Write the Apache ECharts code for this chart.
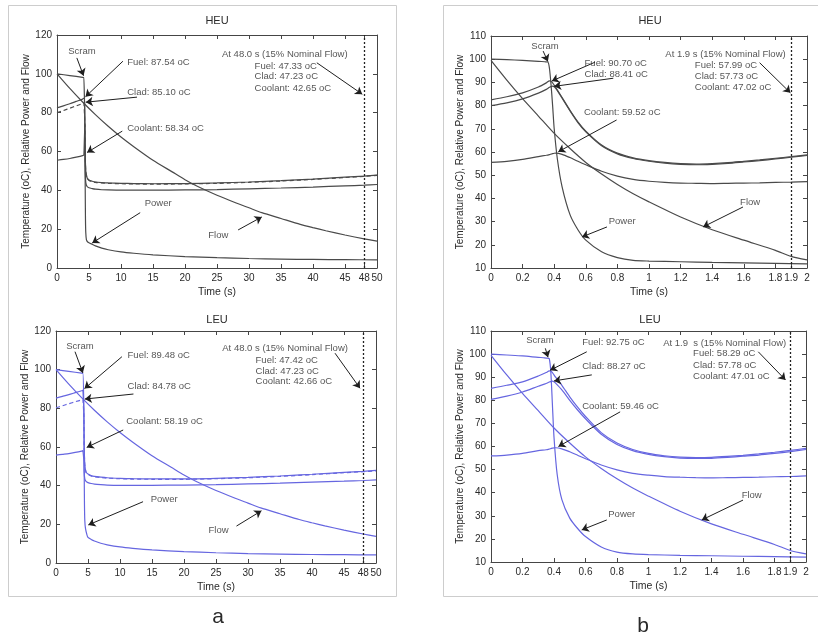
<!DOCTYPE html>
<html>
<head>
<meta charset="utf-8">
<script src="https://cdn.jsdelivr.net/npm/echarts@6/dist/echarts.min.js"></script>
<style>
  html, body { margin: 0; padding: 0; background: #fff; }
  #chart { width: 818px; height: 639px; }
</style>
</head>
<body>
<div id="chart"></div>
<script>
// ---------- (a) 0–50 s transient ----------
const tTempA = [0, 1, 2, 3, 4, 4.2, 4.3, 4.35, 4.4, 4.5, 4.7, 5, 5.5, 6, 7, 8, 10, 12, 15, 20, 25, 30, 35, 40, 45, 48, 50];
const fuelHeuA    = [82.5, 83.5, 84.6, 85.8, 87.0, 87.37, 87.54, 75, 60, 50, 46.5, 45.3, 44.7, 44.3, 44.0, 43.8, 43.6, 43.5, 43.4, 43.5, 43.8, 44.3, 45.0, 45.8, 46.8, 47.33, 47.8];
const cladHeuA    = [80.0, 81.1, 82.3, 83.5, 84.7, 84.95, 85.10, 74, 59.5, 49.8, 46.3, 45.1, 44.5, 44.1, 43.8, 43.6, 43.4, 43.3, 43.2, 43.3, 43.6, 44.1, 44.8, 45.6, 46.6, 47.23, 47.7];
const coolantHeuA = [55.5, 55.9, 56.4, 57.1, 57.9, 58.2, 58.34, 74, 52, 44, 42, 41.3, 40.9, 40.6, 40.3, 40.2, 40.1, 40.1, 40.1, 40.2, 40.4, 40.8, 41.2, 41.7, 42.3, 42.65, 43.0];
const fuelLeuA    = [85.3, 86.2, 87.1, 88.1, 89.1, 89.35, 89.48, 78, 62, 51, 47, 46, 45.2, 44.8, 44.4, 44.1, 43.8, 43.6, 43.5, 43.5, 43.8, 44.3, 45.0, 45.9, 46.9, 47.42, 47.9];
const cladLeuA    = [80.3, 81.3, 82.4, 83.4, 84.4, 84.65, 84.78, 76, 61, 50.5, 46.8, 45.8, 45.0, 44.6, 44.2, 43.9, 43.6, 43.4, 43.3, 43.3, 43.6, 44.1, 44.8, 45.7, 46.7, 47.23, 47.7];
const coolantLeuA = [55.8, 56.2, 56.6, 57.2, 57.9, 58.1, 58.19, 53, 47, 43.5, 42.2, 41.6, 41.1, 40.8, 40.5, 40.3, 40.2, 40.2, 40.2, 40.3, 40.5, 40.9, 41.3, 41.8, 42.3, 42.66, 43.0];

const tPowerA    = [0, 2, 4, 4.2, 4.3, 4.35, 4.4, 4.45, 4.5, 4.6, 4.8, 5, 5.5, 6, 7, 8, 10, 12, 15, 20, 25, 30, 35, 40, 45, 50];
const powerHeuA  = [100, 99.1, 98.2, 98.1, 98, 75, 45, 25, 18, 14.5, 13.4, 13, 12.2, 11.4, 10.2, 9.4, 8.3, 7.6, 6.8, 5.9, 5.3, 4.9, 4.6, 4.4, 4.3, 4.2];
const powerLeuA  = [100, 99.1, 98.2, 98.1, 98, 80, 50, 30, 22, 18, 15, 13.2, 12.2, 11.4, 10.2, 9.4, 8.3, 7.6, 6.8, 5.9, 5.3, 4.9, 4.6, 4.4, 4.3, 4.2];

const tFlowA = [0, 2, 4, 6, 8, 10, 12, 15, 18, 20, 22, 25, 28, 30, 32, 35, 38, 40, 42, 45, 48, 50];
const flowA  = [100, 92.5, 85.5, 79, 73, 67.5, 62.5, 55.5, 49.5, 45.5, 42, 37.5, 33.5, 31, 28.5, 25.5, 22.5, 20.8, 19.2, 17, 15, 13.8];

const xTicksA = [0, 5, 10, 15, 20, 25, 30, 35, 40, 45, 48, 50];
const scramA = 4.3;
const endA = 48;

// ---------- (b) 0–2 s transient ----------
const tTempB = [0, 0.1, 0.2, 0.3, 0.35, 0.37, 0.38, 0.39, 0.4, 0.41, 0.45, 0.5, 0.55, 0.6, 0.7, 0.8, 0.9, 1.0, 1.1, 1.2, 1.3, 1.4, 1.5, 1.6, 1.7, 1.8, 1.9, 2.0];
const fuelHeuB    = [82.5, 83.8, 85.5, 88.0, 89.8, 90.70, 90.5, 89.8, 88.8, 87.8, 83.5, 78.0, 73.0, 69.0, 63.0, 59.5, 57.5, 56.3, 55.5, 55.0, 54.8, 55.0, 55.4, 56.0, 56.6, 57.3, 57.99, 58.8];
const cladHeuB    = [80.0, 81.2, 82.9, 85.4, 87.0, 87.9, 88.2, 88.41, 88.1, 87.4, 83.2, 77.7, 72.7, 68.7, 62.7, 59.2, 57.2, 56.0, 55.2, 54.7, 54.5, 54.7, 55.1, 55.7, 56.3, 57.0, 57.73, 58.5];
const coolantHeuB = [55.5, 56.0, 56.8, 58.0, 58.6, 58.9, 59.1, 59.3, 59.45, 59.52, 59.0, 57.6, 56.0, 54.5, 51.7, 49.6, 48.2, 47.4, 46.9, 46.6, 46.5, 46.4, 46.5, 46.6, 46.7, 46.9, 47.02, 47.2];
const fuelLeuB    = [85.2, 86.5, 88.0, 90.5, 92.0, 92.75, 92.6, 92.0, 91.0, 90.0, 86.5, 81.5, 77.0, 73.0, 66.0, 61.5, 58.7, 57.0, 56.0, 55.4, 55.2, 55.3, 55.7, 56.2, 56.8, 57.5, 58.29, 59.2];
const cladLeuB    = [80.4, 81.8, 83.6, 86.1, 87.3, 87.9, 88.1, 88.27, 88.0, 87.4, 84.5, 80.0, 75.8, 72.0, 65.3, 60.9, 58.2, 56.6, 55.6, 55.0, 54.8, 54.9, 55.3, 55.8, 56.3, 57.0, 57.78, 58.7];
const coolantLeuB = [55.9, 56.3, 57.0, 58.2, 58.6, 58.9, 59.1, 59.3, 59.4, 59.46, 59.0, 57.7, 56.2, 54.7, 52.0, 49.9, 48.4, 47.6, 47.0, 46.7, 46.5, 46.4, 46.5, 46.6, 46.7, 46.9, 47.01, 47.3];

const tPowerB   = [0, 0.1, 0.2, 0.3, 0.34, 0.36, 0.37, 0.38, 0.39, 0.4, 0.42, 0.45, 0.5, 0.55, 0.6, 0.7, 0.8, 0.9, 1.0, 1.2, 1.4, 1.6, 1.8, 2.0];
const powerHeuB = [100, 99.8, 99.5, 99.1, 98.9, 98.8, 96, 89, 80, 70, 57, 45, 33, 26.5, 22, 17, 14.5, 13.3, 13, 12.7, 12.4, 12.2, 12, 11.8];
const powerLeuB = [100, 99.6, 99.2, 98.6, 98.4, 98.2, 98.0, 92, 78, 64, 48, 37, 29, 24.5, 21, 16.5, 14.3, 13.5, 13.2, 12.9, 12.7, 12.5, 12.3, 12.1];

const tFlowB = [0, 0.1, 0.2, 0.3, 0.4, 0.5, 0.6, 0.7, 0.8, 0.9, 1.0, 1.2, 1.4, 1.6, 1.8, 1.9, 2.0];
const flowB  = [99.5, 91, 83, 75.5, 68, 61.5, 55.5, 50.5, 46, 42, 38.5, 32, 26.5, 22, 17.6, 15, 13.5];

const xTicksB = [0, 0.2, 0.4, 0.6, 0.8, 1, 1.2, 1.4, 1.6, 1.8, 1.9, 2];
const endB = 1.9;

// ---------- helpers ----------
const FONT = '"Liberation Sans", Arial, Helvetica, sans-serif';
const INK = '#2a2a2a';
const AXIS = '#454545';
const GRAY_LINE = '#4a4a4a';
const BLUE_LINE = '#6666e0';
const yName = 'Temperature (oC), Relative Power and Flow';

const valueAt = (t, v, x) => v[t.indexOf(x)];
const f2 = n => n.toFixed(2);

function curve(gi, t, v, color, dashed) {
  return {
    type: 'line', xAxisIndex: gi * 2, yAxisIndex: gi * 2,
    data: t.map((x, i) => [x, v[i]]),
    symbol: 'none', showSymbol: false, silent: true,
    smooth: 0.25,
    lineStyle: { color: color, width: 1.2, type: dashed ? [4, 3] : 'solid' },
    z: 3
  };
}

// dotted marker at the 15 % flow time, carried by the flow curve
function withMarker(s, markT) {
  s.markLine = {
    silent: true, animation: false, symbol: ['none', 'none'],
    label: { show: false },
    lineStyle: { color: '#222', width: 1.3, type: [2, 2] },
    data: [{ xAxis: markT }]
  };
  return s;
}

// text notes: [t, value, text, anchor]  anchor 'l' = left edge, 'c' = centred
// arrows: [tFrom, vFrom, tTo, vTo]
function notes(gi, items, arrows) {
  return {
    type: 'scatter', xAxisIndex: gi * 2, yAxisIndex: gi * 2,
    symbolSize: 1, itemStyle: { color: 'rgba(0,0,0,0)' }, silent: true, z: 6,
    data: items.map(n => ({
      value: [n[0], n[1]],
      label: {
        show: true, formatter: n[2], position: n[3] === 'c' ? 'inside' : 'right',
        distance: 0, color: INK, fontSize: 9.5, fontFamily: FONT
      }
    })),
    markLine: {
      silent: true, animation: false,
      symbol: ['none', 'arrow'], symbolSize: 7,
      label: { show: false },
      lineStyle: { color: '#1e1e1e', width: 1, type: 'solid' },
      data: arrows.map(a => [{ coord: [a[0], a[1]] }, { coord: [a[2], a[3]] }])
    }
  };
}

function xAxes(gi, min, max, ticks) {
  const base = {
    type: 'value', gridIndex: gi, min: min, max: max,
    splitLine: { show: false },
    axisLine: { show: true, onZero: false, lineStyle: { color: AXIS, width: 1 } },
    axisTick: { show: true, inside: true, length: 4, customValues: ticks, lineStyle: { color: AXIS } }
  };
  return [
    Object.assign({}, base, {
      position: 'bottom',
      axisLabel: { show: true, customValues: ticks, fontSize: 10, color: INK, margin: 5, fontFamily: FONT },
      name: 'Time (s)', nameLocation: 'middle', nameGap: 19,
      nameTextStyle: { fontSize: 10.5, color: INK, fontFamily: FONT }
    }),
    Object.assign({}, base, { position: 'top', axisLabel: { show: false } })
  ];
}

function yAxes(gi, min, max, interval) {
  const base = {
    type: 'value', gridIndex: gi, min: min, max: max, interval: interval,
    splitLine: { show: false },
    axisLine: { show: true, onZero: false, lineStyle: { color: AXIS, width: 1 } },
    axisTick: { show: true, inside: true, length: 4, lineStyle: { color: AXIS } }
  };
  return [
    Object.assign({}, base, {
      position: 'left',
      axisLabel: { show: true, fontSize: 10, color: INK, margin: 5, fontFamily: FONT },
      name: yName, nameLocation: 'middle', nameGap: 24,
      nameTextStyle: { fontSize: 10, color: INK, fontFamily: FONT }
    }),
    Object.assign({}, base, { position: 'right', axisLabel: { show: false } })
  ];
}

function header(t, flow, gap) {
  return 'At ' + t.toFixed(1) + gap + 's (' + Math.round(flow) + '% Nominal Flow)';
}

// ---------- annotation texts ----------
const flowEndA = valueAt(tFlowA, flowA, endA);
const flowEndB = valueAt(tFlowB, flowB, endB);

const notesHeuA = [
  [3.9, 111.5, 'Scram', 'c'],
  [10.9, 106.0, 'Fuel: ' + f2(valueAt(tTempA, fuelHeuA, scramA)) + ' oC', 'l'],
  [10.9, 90.6, 'Clad: ' + f2(valueAt(tTempA, cladHeuA, scramA)) + ' oC', 'l'],
  [10.9, 72.0, 'Coolant: ' + f2(valueAt(tTempA, coolantHeuA, scramA)) + ' oC', 'l'],
  [15.8, 33.5, 'Power', 'c'],
  [25.2, 17.0, 'Flow', 'c'],
  [25.7, 110.2, header(endA, flowEndA, ' '), 'l'],
  [30.8, 104.0, 'Fuel: ' + f2(valueAt(tTempA, fuelHeuA, endA)) + ' oC', 'l'],
  [30.8, 98.9, 'Clad: ' + f2(valueAt(tTempA, cladHeuA, endA)) + ' oC', 'l'],
  [30.8, 92.5, 'Coolant: ' + f2(valueAt(tTempA, coolantHeuA, endA)) + ' oC', 'l']
];
const arrowsHeuA = [
  [3.1, 108.2, 4.15, 99.0],
  [10.3, 106.5, 4.45, 88.2],
  [12.5, 88.0, 4.5, 85.4],
  [10.2, 70.5, 4.7, 59.5],
  [13.0, 28.5, 5.5, 12.9],
  [28.3, 19.6, 32.0, 26.3],
  [40.6, 105.7, 47.7, 89.5]
];

const notesLeuA = [
  [3.75, 112.3, 'Scram', 'c'],
  [11.1, 107.6, 'Fuel: ' + f2(valueAt(tTempA, fuelLeuA, scramA)) + ' oC', 'l'],
  [11.1, 91.2, 'Clad: ' + f2(valueAt(tTempA, cladLeuA, scramA)) + ' oC', 'l'],
  [10.9, 73.1, 'Coolant: ' + f2(valueAt(tTempA, coolantLeuA, scramA)) + ' oC', 'l'],
  [16.9, 33.0, 'Power', 'c'],
  [25.4, 17.0, 'Flow', 'c'],
  [25.9, 111.1, header(endA, flowEndA, ' '), 'l'],
  [31.1, 105.0, 'Fuel: ' + f2(valueAt(tTempA, fuelLeuA, endA)) + ' oC', 'l'],
  [31.1, 99.3, 'Clad: ' + f2(valueAt(tTempA, cladLeuA, endA)) + ' oC', 'l'],
  [31.1, 93.8, 'Coolant: ' + f2(valueAt(tTempA, coolantLeuA, endA)) + ' oC', 'l']
];
const arrowsLeuA = [
  [2.97, 109.3, 4.2, 98.3],
  [10.3, 106.7, 4.45, 90.2],
  [12.1, 87.4, 4.5, 84.8],
  [10.5, 68.8, 4.8, 59.8],
  [13.6, 31.7, 5.05, 19.7],
  [28.2, 19.1, 32.1, 27.0],
  [43.6, 108.5, 47.5, 90.4]
];

const notesHeuB = [
  [0.342, 105.4, 'Scram', 'c'],
  [0.589, 98.2, 'Fuel: ' + f2(Math.max(...fuelHeuB)) + ' oC', 'l'],
  [0.589, 93.6, 'Clad: ' + f2(Math.max(...cladHeuB)) + ' oC', 'l'],
  [0.585, 76.9, 'Coolant: ' + f2(Math.max(...coolantHeuB)) + ' oC', 'l'],
  [0.83, 30.3, 'Power', 'c'],
  [1.64, 38.4, 'Flow', 'c'],
  [1.10, 102.2, header(endB, flowEndB, ' '), 'l'],
  [1.287, 97.5, 'Fuel: ' + f2(valueAt(tTempB, fuelHeuB, endB)) + ' oC', 'l'],
  [1.287, 92.5, 'Clad: ' + f2(valueAt(tTempB, cladHeuB, endB)) + ' oC', 'l'],
  [1.287, 87.7, 'Coolant: ' + f2(valueAt(tTempB, coolantHeuB, endB)) + ' oC', 'l']
];
const arrowsHeuB = [
  [0.33, 103.5, 0.36, 99.0],
  [0.658, 98.7, 0.385, 90.6],
  [0.774, 91.8, 0.40, 88.3],
  [0.795, 73.8, 0.426, 60.1],
  [0.734, 27.7, 0.576, 23.4],
  [1.595, 36.3, 1.342, 27.7],
  [1.70, 98.5, 1.895, 85.5]
];

const notesLeuB = [
  [0.311, 105.8, 'Scram', 'c'],
  [0.576, 104.9, 'Fuel: ' + f2(Math.max(...fuelLeuB)) + ' oC', 'l'],
  [0.576, 94.5, 'Clad: ' + f2(Math.max(...cladLeuB)) + ' oC', 'l'],
  [0.576, 77.5, 'Coolant: ' + f2(Math.max(...coolantLeuB)) + ' oC', 'l'],
  [0.83, 30.8, 'Power', 'c'],
  [1.655, 38.7, 'Flow', 'c'],
  [1.09, 104.7, header(endB, flowEndB, '  '), 'l'],
  [1.28, 100.3, 'Fuel: ' + f2(valueAt(tTempB, fuelLeuB, endB)) + ' oC', 'l'],
  [1.28, 95.0, 'Clad: ' + f2(valueAt(tTempB, cladLeuB, endB)) + ' oC', 'l'],
  [1.28, 90.2, 'Coolant: ' + f2(valueAt(tTempB, coolantLeuB, endB)) + ' oC', 'l']
];
const arrowsLeuB = [
  [0.345, 102.5, 0.362, 98.6],
  [0.608, 101.0, 0.375, 93.0],
  [0.64, 91.0, 0.40, 88.4],
  [0.82, 75.0, 0.428, 60.0],
  [0.735, 28.2, 0.576, 23.9],
  [1.60, 36.8, 1.338, 28.2],
  [1.697, 101.0, 1.87, 88.8]
];

// ---------- chart ----------
const grids = [
  { left: 57, top: 35, width: 320, height: 233 },   // HEU, 0–50 s
  { left: 491, top: 36, width: 316, height: 232 },  // HEU, 0–2 s
  { left: 56, top: 331, width: 320, height: 232 },  // LEU, 0–50 s
  { left: 491, top: 331, width: 315, height: 231 }  // LEU, 0–2 s
];

const xAxis = [].concat(
  xAxes(0, 0, 50, xTicksA), xAxes(1, 0, 2, xTicksB),
  xAxes(2, 0, 50, xTicksA), xAxes(3, 0, 2, xTicksB)
);
const yAxis = [].concat(
  yAxes(0, 0, 120, 20), yAxes(1, 10, 110, 10),
  yAxes(2, 0, 120, 20), yAxes(3, 10, 110, 10)
);

const series = [
  // HEU 0–50 s
  withMarker(curve(0, tFlowA, flowA, GRAY_LINE), endA),
  curve(0, tPowerA, powerHeuA, GRAY_LINE),
  curve(0, tTempA, fuelHeuA, GRAY_LINE),
  curve(0, tTempA, cladHeuA, GRAY_LINE, true),
  curve(0, tTempA, coolantHeuA, GRAY_LINE),
  notes(0, notesHeuA, arrowsHeuA),
  // HEU 0–2 s
  withMarker(curve(1, tFlowB, flowB, GRAY_LINE), endB),
  curve(1, tPowerB, powerHeuB, GRAY_LINE),
  curve(1, tTempB, fuelHeuB, GRAY_LINE),
  curve(1, tTempB, cladHeuB, GRAY_LINE),
  curve(1, tTempB, coolantHeuB, GRAY_LINE),
  notes(1, notesHeuB, arrowsHeuB),
  // LEU 0–50 s
  withMarker(curve(2, tFlowA, flowA, BLUE_LINE), endA),
  curve(2, tPowerA, powerLeuA, BLUE_LINE),
  curve(2, tTempA, fuelLeuA, BLUE_LINE),
  curve(2, tTempA, cladLeuA, BLUE_LINE, true),
  curve(2, tTempA, coolantLeuA, BLUE_LINE),
  notes(2, notesLeuA, arrowsLeuA),
  // LEU 0–2 s
  withMarker(curve(3, tFlowB, flowB, BLUE_LINE), endB),
  curve(3, tPowerB, powerLeuB, BLUE_LINE),
  curve(3, tTempB, fuelLeuB, BLUE_LINE),
  curve(3, tTempB, cladLeuB, BLUE_LINE),
  curve(3, tTempB, coolantLeuB, BLUE_LINE),
  notes(3, notesLeuB, arrowsLeuB)
];

function label(text, x, y, size) {
  return {
    type: 'text', x: x, y: y, silent: true, z: 10,
    style: { text: text, align: 'center', verticalAlign: 'middle', fill: INK,
             font: size + 'px ' + FONT }
  };
}

const graphic = [
  { type: 'rect', silent: true, z: -10, shape: { x: 8.5, y: 5.5, width: 388, height: 591 },
    style: { fill: 'none', stroke: '#cdcdcd', lineWidth: 1 } },
  { type: 'rect', silent: true, z: -10, shape: { x: 443.5, y: 5.5, width: 420, height: 591 },
    style: { fill: 'none', stroke: '#cdcdcd', lineWidth: 1 } },
  label('HEU', 217, 21, 11),
  label('HEU', 650, 21, 11),
  label('LEU', 217, 320, 11),
  label('LEU', 650, 320, 11),
  label('a', 218, 617, 21),
  label('b', 643, 626, 21)
];

const chart = echarts.init(document.getElementById('chart'), null, { renderer: 'canvas' });
chart.setOption({
  animation: false,
  backgroundColor: '#ffffff',
  textStyle: { fontFamily: FONT },
  grid: grids,
  xAxis: xAxis,
  yAxis: yAxis,
  series: series,
  graphic: graphic
});
</script>
</body>
</html>
